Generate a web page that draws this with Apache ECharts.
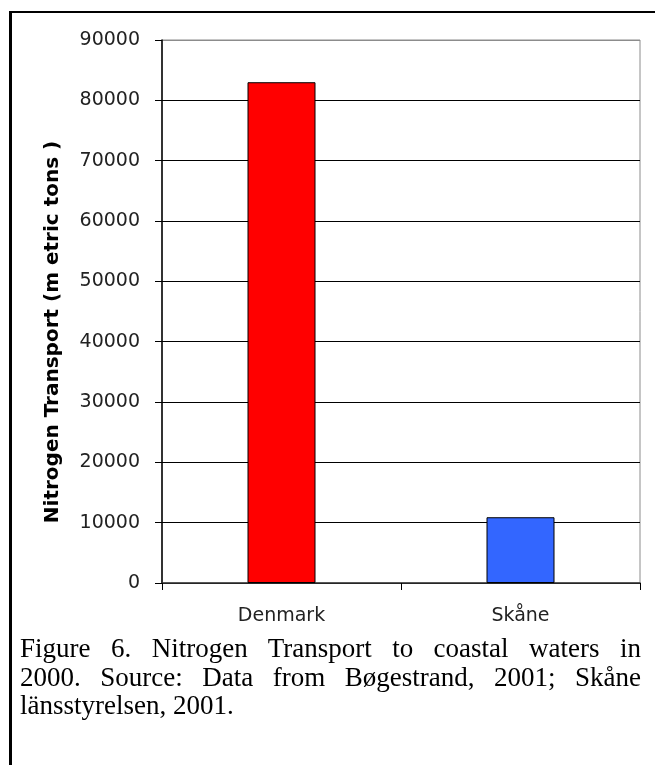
<!DOCTYPE html>
<html>
<head>
<meta charset="utf-8">
<script src="https://cdn.jsdelivr.net/npm/echarts@6/dist/echarts.min.js"></script>
<style>
  html, body { margin: 0; padding: 0; background: #fff; }
  #wrap { position: relative; width: 655px; height: 765px; overflow: hidden; }
  #main { position: absolute; left: 0; top: 0; width: 655px; height: 765px; }
  #frame { position: absolute; left: 9px; top: 11px; width: 700px; height: 800px;
           border-left: 3px solid #000; border-top: 2px solid #000; pointer-events: none; }
  #caption { position: absolute; left: 20px; top: 634px; width: 621px;
             font-family: "Liberation Serif", "Times New Roman", serif; font-size: 27px;
             line-height: 28.5px; color: #000; }
  #caption .ln { display: block; white-space: nowrap; text-align: justify; text-align-last: justify; }
  #caption .ln.last { text-align: left; text-align-last: left; }
</style>
</head>
<body>
<div id="wrap">
  <div id="main"></div>
  <div id="frame"></div>
  <div id="caption">
    <span class="ln">Figure 6. Nitrogen Transport to coastal waters in</span>
    <span class="ln">2000. Source: Data from Bøgestrand, 2001; Skåne</span>
    <span class="ln last">länsstyrelsen, 2001.</span>
  </div>
</div>
<script>
// data
const categories = ['Denmark', 'Skåne'];
const nitrogenTons = [83000, 10900];
const yTicks = [0, 10000, 20000, 30000, 40000, 50000, 60000, 70000, 80000, 90000];

const barColors = ['#FF0000', '#3366FF'];
const yName = 'Nitrogen Transport (m etric tons )';

const chart = echarts.init(document.getElementById('main'));

// grid lines are black, the top one (plot border) is gray
const splitColors = yTicks.map((t, i) => (i === yTicks.length - 1 ? '#8c8c8c' : '#000'));

chart.setOption({
  animation: false,
  backgroundColor: '#fff',
  grid: {
    left: 162, right: 15, top: 40, bottom: 182,
    show: true, borderColor: '#8c8c8c', borderWidth: 1, backgroundColor: 'transparent'
  },
  xAxis: {
    type: 'category',
    data: categories,
    axisLine: { lineStyle: { color: '#333', width: 1.5 } },
    axisTick: { show: true, length: 7, lineStyle: { color: '#000' } },
    axisLabel: {
      margin: 24,
      color: '#222',
      fontFamily: 'DejaVu Sans',
      fontSize: 19
    }
  },
  yAxis: {
    type: 'value',
    min: yTicks[0],
    max: yTicks[yTicks.length - 1],
    interval: 10000,
    axisLine: { show: true, lineStyle: { color: '#000', width: 1.5 } },
    axisTick: { show: true, length: 7, lineStyle: { color: '#000' } },
    splitLine: { show: true, lineStyle: { color: splitColors, width: 1 } },
    axisLabel: {
      margin: 22,
      color: '#222',
      fontFamily: 'DejaVu Sans',
      fontSize: 19,
      padding: [0, 0, 10, 0],
      formatter: (v) => String(v)
    }
  },
  graphic: [{
    type: 'text',
    x: 53,
    y: 332,
    rotation: Math.PI / 2,
    style: {
      text: yName,
      fontFamily: 'DejaVu Sans',
      fontWeight: 'bold',
      fontSize: 20,
      fill: '#000',
      align: 'center',
      verticalAlign: 'middle'
    }
  }],
  series: [{
    type: 'bar',
    barWidth: 68,
    data: nitrogenTons.map((v, i) => ({
      value: v,
      itemStyle: { color: barColors[i], borderColor: '#000', borderWidth: 1 }
    }))
  }]
});
</script>
</body>
</html>
